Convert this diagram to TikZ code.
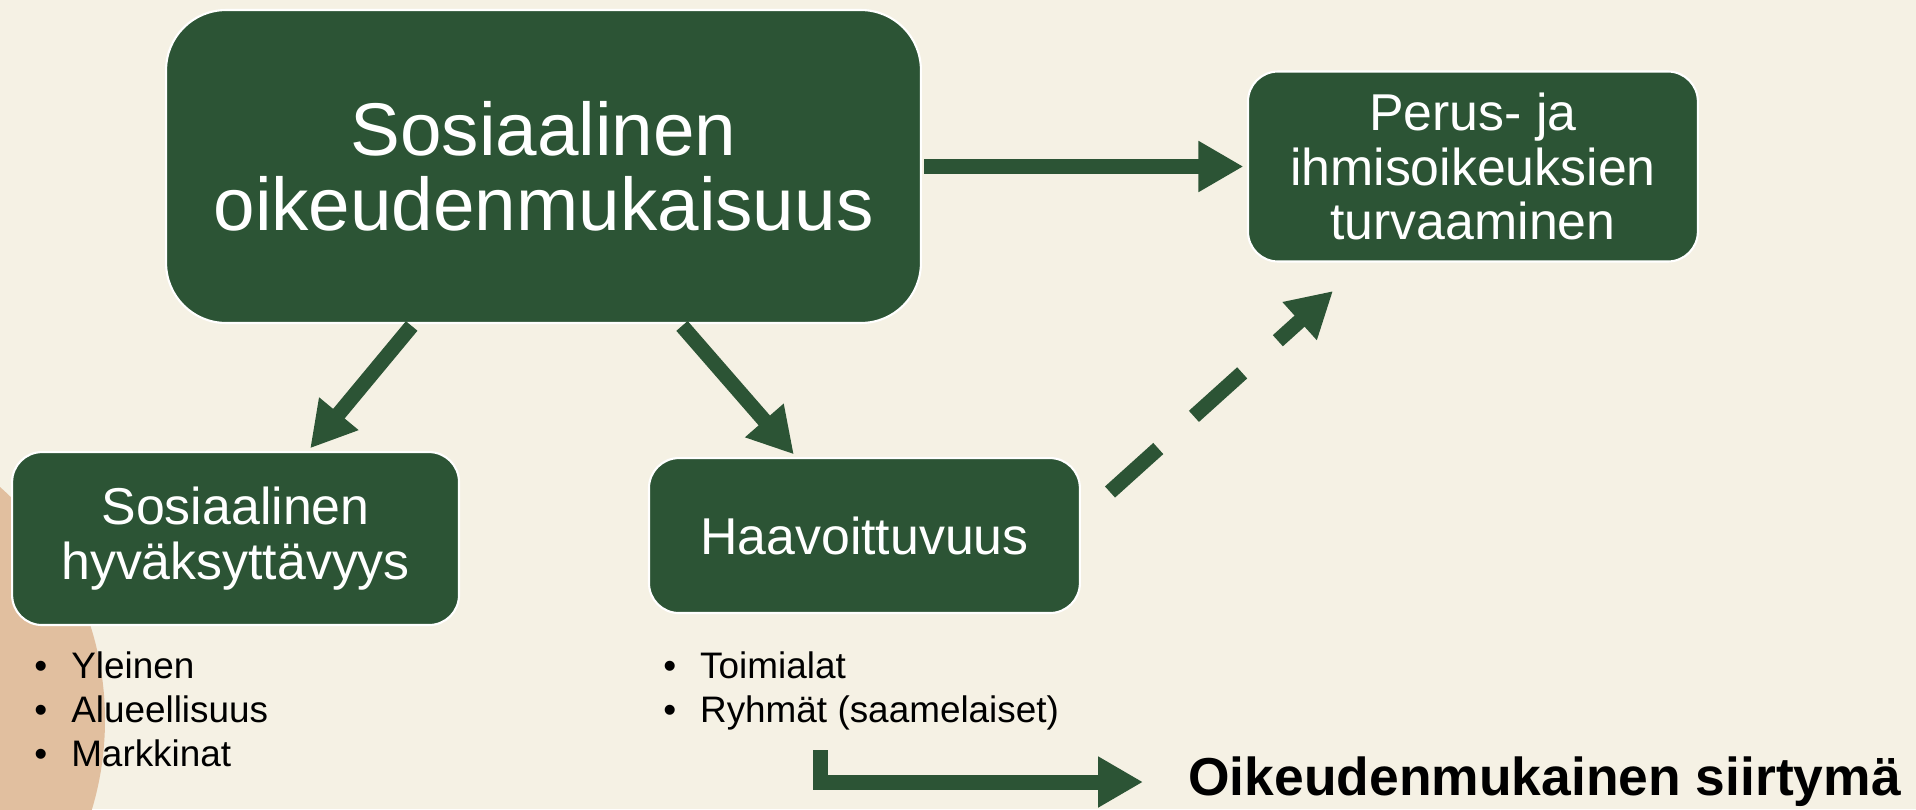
\documentclass[tikz,border=0pt]{standalone}
\usepackage{fontspec}
\setmainfont{Liberation Sans}
\usepackage{tikz}
\usetikzlibrary{positioning, arrows.meta}

\definecolor{tausta}{HTML}{F5F1E4}
\definecolor{metsa}{HTML}{2C5435}
\definecolor{hiekka}{HTML}{E1BF9F}

\tikzset{
  box/.style={draw=white, line width=1.2pt, fill=metsa, text=white, align=center,
    inner sep=0pt, rounded corners=0.6cm, font=\fontsize{29.5}{31}\selectfont},
  nuoli/.style={draw=metsa, line width=0.3cm, -{Triangle[length=0.9cm,width=0.96cm]},
    shorten <=0.05cm, shorten >=0.07cm},
  lista/.style={align=left, inner sep=0pt, font=\fontsize{21}{25}\selectfont}
}

\begin{document}
\begin{tikzpicture}[x=0.02cm, y=-0.02cm]
		\fill[tausta] (0,0) rectangle (1916,809);
		\useasboundingbox (0,0) rectangle (1916,809);
		\begin{scope}
			\clip (0,0) rectangle (1916,809);
			\fill[hiekka] (-206,720) circle[radius=311];
		\end{scope}
		
		\node[box, rounded corners=1.2cm, minimum width=15.1cm, minimum height=6.26cm,
			font=\fontsize{42.5}{43}\selectfont] (main) at (543.5,166.5) {Sosiaalinen\\oikeudenmukaisuus};
		\node[box, right=6.5cm of main, minimum width=9cm, minimum height=3.8cm] (perus) {Perus- ja\\ihmisoikeuksien\\turvaaminen};
		\draw[nuoli] (main) -- (perus);
		
		\node[box, below=2.54cm of main, xshift=-6.16cm, minimum width=8.94cm, minimum height=3.46cm] (hyvaks) {Sosiaalinen\\hyväksyttävyys};
		\node[box, below=2.66cm of main, xshift=6.42cm, minimum width=8.62cm, minimum height=3.1cm] (haav) {Haavoittuvuus};
		\draw[nuoli] (main) -- (hyvaks);
		\draw[nuoli] (main) -- (haav);
		
		\node[lista, below=0.51cm of hyvaks.south west, anchor=north west, xshift=0.46cm] (lista1)
			{\makebox[21pt][l]{\textbullet}Yleinen\\\makebox[21pt][l]{\textbullet}Alueellisuus\\\makebox[21pt][l]{\textbullet}Markkinat};
		\node[lista, below=0.75cm of haav.south west, anchor=north west, xshift=0.3cm] (lista2)
			{\makebox[21pt][l]{\textbullet}Toimialat\\\makebox[21pt][l]{\textbullet}Ryhmät (saamelaiset)};
		
		\coordinate (dl) at (1110,492);
		\coordinate (dr) at (1333,291);
		\draw[nuoli, dash pattern=on 1.3cm off 0.96cm, shorten <=0pt, shorten >=0pt] (dl) -- (dr);
		
		\coordinate (lk) at (820,750);
		\node[anchor=west, inner sep=0pt, font=\fontsize{30.4}{36}\selectfont\bfseries] (siirtyma) at (1188,782) {Oikeudenmukainen siirtymä};
		\draw[nuoli, shorten <=0pt, shorten >=0.9cm] (lk) |- (siirtyma);
		
	\end{tikzpicture}
\end{document}
